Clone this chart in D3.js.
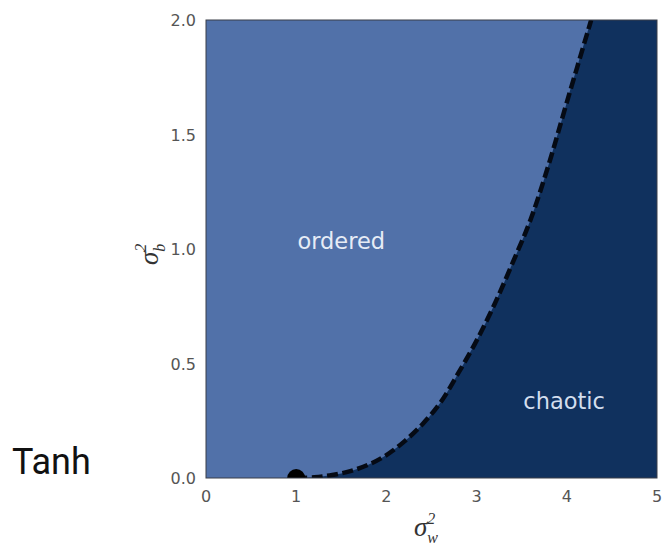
<!DOCTYPE html>
<html lang="en">
<head>
  <meta charset="UTF-8" />
  <script src="https://d3js.org/d3.v7.min.js"></script>
  <style>
    body { margin: 0; background: #fff; }
  </style>
</head>
<body>
  <div id="scene"></div>

  <script>
    // order-to-chaos boundary for tanh
    const boundaryW = [1.0, 1.2, 1.4, 1.6, 1.8, 2.0, 2.2, 2.4, 2.6, 2.8, 3.0, 3.2, 3.4, 3.6, 3.8, 4.0, 4.27];
    const boundaryB = [0.0, 0.003, 0.013, 0.03, 0.058, 0.1, 0.16, 0.235, 0.33, 0.46, 0.6, 0.76, 0.94, 1.13, 1.37, 1.64, 2.0];
    const criticalPoint = [1.0, 0.0];
    const xTicks = [0, 1, 2, 3, 4, 5];
    const yTicks = [0.0, 0.5, 1.0, 1.5, 2.0];
    const regionLabels = [
      { text: "ordered", x: 1.5, y: 1.0, color: "#e6ecf6" },
      { text: "chaotic", x: 3.97, y: 0.3, color: "#d3deee" }
    ];

    const W = 662, H = 546;
    const margin = { left: 206, top: 20, right: 5, bottom: 68 };
    const w = W - margin.left - margin.right, h = H - margin.top - margin.bottom;

    const svg = d3.select("#scene").append("svg").attr("width", W).attr("height", H);
    const x = d3.scaleLinear().domain([0, 5]).range([0, w]);
    const y = d3.scaleLinear().domain([0, 2]).range([h, 0]);

    const g = svg.append("g").attr("transform", `translate(${margin.left},${margin.top})`);

    svg.append("defs").append("clipPath").attr("id", "clip")
      .append("rect").attr("width", w).attr("height", h);

    const pts = boundaryW.map((d, i) => [d, boundaryB[i]]);
    const plot = g.append("g").attr("clip-path", "url(#clip)");
    const line = d3.line().curve(d3.curveCatmullRom).x(d => x(d[0])).y(d => y(d[1]));

    // ordered background
    plot.append("rect").attr("width", w).attr("height", h).attr("fill", "#5171a9");

    // chaotic region: right of the boundary
    plot.append("path")
      .attr("d", line(pts) + `L${x(5)},${y(2)}L${x(5)},${y(0)}Z`)
      .attr("fill", "#10315e");

    plot.append("path")
      .attr("d", line(pts))
      .attr("fill", "none")
      .attr("stroke", "#050a14")
      .attr("stroke-width", 4.5)
      .attr("stroke-dasharray", "11,4.5");

    plot.append("circle")
      .attr("cx", x(criticalPoint[0])).attr("cy", y(criticalPoint[1]))
      .attr("r", 9).attr("fill", "#000");

    regionLabels.forEach(l => {
      plot.append("text")
        .attr("x", x(l.x)).attr("y", y(l.y))
        .attr("text-anchor", "middle")
        .attr("font-family", "DejaVu Sans")
        .attr("font-size", 22.5)
        .attr("fill", l.color)
        .text(l.text);
    });

    // frame
    g.append("rect").attr("width", w).attr("height", h)
      .attr("fill", "none").attr("stroke", "#3a3f48").attr("stroke-width", 1);

    // ticks
    const tickFont = "DejaVu Sans";
    g.selectAll(".xt").data(xTicks).enter().append("text")
      .attr("x", d => x(d)).attr("y", h + 24)
      .attr("text-anchor", "middle")
      .attr("font-family", tickFont).attr("font-size", 16).attr("fill", "#555")
      .text(d => d);
    g.selectAll(".yt").data(yTicks).enter().append("text")
      .attr("x", -10).attr("y", d => y(d) + 6)
      .attr("text-anchor", "end")
      .attr("font-family", tickFont).attr("font-size", 16).attr("fill", "#555")
      .text(d => d.toFixed(1));

    // axis labels
    function sigmaLabel(sel, sub) {
      sel.attr("font-family", "Liberation Serif").attr("font-style", "italic").attr("fill", "#333");
      sel.append("tspan").attr("font-size", 27).text("σ");
      sel.append("tspan").attr("font-size", 16).attr("dy", -12).text("2");
      sel.append("tspan").attr("font-size", 16).attr("dx", -8).attr("dy", 19).text(sub);
    }
    sigmaLabel(svg.append("text").attr("x", 414).attr("y", 536), "w");
    sigmaLabel(svg.append("text").attr("transform", "translate(158,265) rotate(-90)"), "b");

    svg.append("text")
      .attr("x", 12).attr("y", 474)
      .attr("font-family", "Roboto").attr("font-size", 36).attr("fill", "#111")
      .text("Tanh");
  </script>
</body>
</html>
